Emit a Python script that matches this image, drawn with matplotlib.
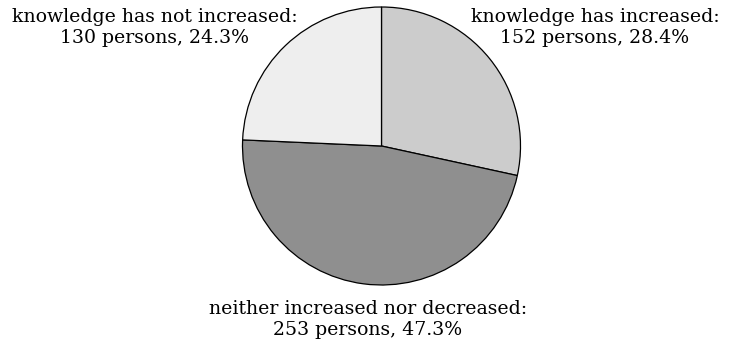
import matplotlib
matplotlib.use("Agg")
import matplotlib.pyplot as plt

# Survey answers, clockwise from 12 o'clock
categories = ["knowledge has increased", "neither increased nor decreased",
              "knowledge has not increased"]
persons = [152, 253, 130]
percent = [28.4, 47.3, 24.3]
colors = ["#cccccc", "#8f8f8f", "#eeeeee"]

W, H = 738, 347
fig = plt.figure(figsize=(W / 100, H / 100), dpi=100)

# pie centred at (381.5, 146) px from top-left, radius 139 px
cx, cy, r = 381.5, 146, 139
ax = fig.add_axes([(cx - r) / W, (H - cy - r) / H, 2 * r / W, 2 * r / H])
ax.pie(persons, colors=colors, startangle=90, counterclock=False,
       radius=1.0, wedgeprops=dict(edgecolor="black", linewidth=0.9))
ax.set_xlim(-1.0, 1.0)
ax.set_ylim(-1.0, 1.0)
ax.axis("off")

font = dict(family="DejaVu Serif", size=13.6, ha="center", va="baseline")
# label anchors (centre x, first baseline y) in px from top-left
anchors = [(595, 22), (368, 314), (155, 22)]
for cat, n, p, (x, y) in zip(categories, persons, percent, anchors):
    fig.text(x / W, 1 - y / H, f"{cat}:", **font)
    fig.text(x / W, 1 - (y + 21) / H, f"{n} persons, {p}%", **font)

fig.savefig("out.png", dpi=100)
